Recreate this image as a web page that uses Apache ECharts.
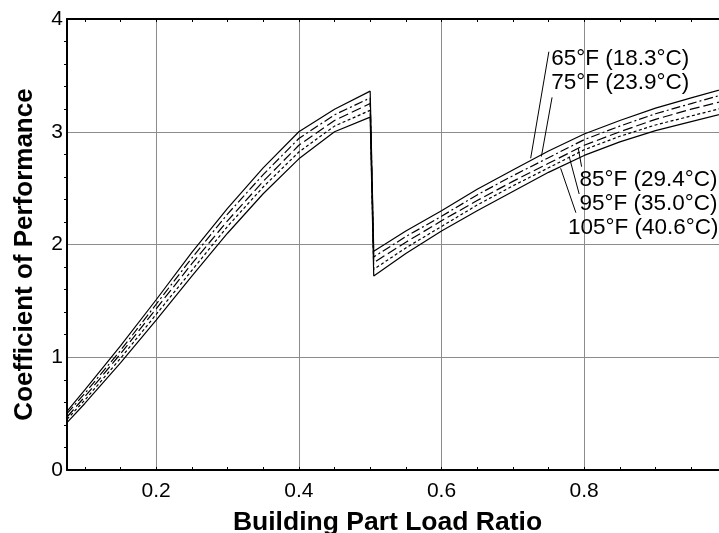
<!DOCTYPE html>
<html>
<head>
<meta charset="utf-8">
<script src="https://cdn.jsdelivr.net/npm/echarts@6/dist/echarts.min.js"></script>
<style>
  html, body { margin: 0; padding: 0; background: #fff; }
  #chart { width: 719px; height: 533px; }
</style>
</head>
<body>
<div id="chart"></div>
<script>
// x positions (part load ratio); the drop happens between 0.5 and 0.505
var xVals = [0.075, 0.1, 0.15, 0.2, 0.25, 0.3, 0.35, 0.4, 0.45, 0.5,
             0.505, 0.55, 0.6, 0.65, 0.7, 0.75, 0.8, 0.85, 0.9, 0.95, 1.0];

// COP, one array per outdoor temperature
var cop65  = [0.52, 0.71, 1.10, 1.51, 1.93, 2.32, 2.68, 3.00, 3.20, 3.36,
              1.94, 2.12, 2.30, 2.49, 2.66, 2.83, 2.98, 3.10, 3.21, 3.30, 3.39];
var cop75  = [0.50, 0.68, 1.06, 1.47, 1.88, 2.27, 2.62, 2.94, 3.15, 3.30,
              1.89, 2.07, 2.25, 2.44, 2.61, 2.77, 2.93, 3.05, 3.16, 3.25, 3.34];
var cop85  = [0.47, 0.65, 1.03, 1.43, 1.83, 2.21, 2.56, 2.88, 3.10, 3.25,
              1.84, 2.02, 2.21, 2.39, 2.56, 2.72, 2.88, 3.00, 3.11, 3.20, 3.28];
var cop95  = [0.45, 0.62, 0.99, 1.38, 1.77, 2.16, 2.51, 2.82, 3.05, 3.19,
              1.78, 1.97, 2.16, 2.35, 2.52, 2.68, 2.84, 2.96, 3.06, 3.14, 3.22];
var cop105 = [0.42, 0.59, 0.95, 1.33, 1.72, 2.10, 2.45, 2.76, 3.00, 3.13,
              1.72, 1.92, 2.12, 2.30, 2.47, 2.64, 2.79, 2.91, 3.01, 3.09, 3.17];

// tick labels
var xLabelTicks = [0.2, 0.4, 0.6, 0.8];
var xMinorTicks = [0.1, 0.15, 0.2, 0.25, 0.3, 0.35, 0.4, 0.45, 0.5, 0.55,
                   0.6, 0.65, 0.7, 0.75, 0.8, 0.85, 0.9, 0.95];

// legend labels, where the text sits and the leader line (data coords)
var labelNames = ['65°F (18.3°C)', '75°F (23.9°C)', '85°F (29.4°C)', '95°F (35.0°C)', '105°F (40.6°C)'];
var labelPos = [[0.753, 3.648], [0.753, 3.43], [0.7926, 2.572], [0.7926, 2.365], [0.7767, 2.144]];
var leaderFrom = [[0.7505, 3.71], [0.755, 3.305], [0.7964, 2.69], [0.793, 2.448], [0.7884, 2.282]];
var leaderTo = [[0.725, 2.765], [0.740, 2.78], [0.7917, 2.853], [0.779, 2.779], [0.767, 2.676]];

var lineTypes = ['solid', [9, 3, 2, 3], [10, 4], [3, 2.5], 'solid'];
var allCop = [cop65, cop75, cop85, cop95, cop105];

var FONT = '"Liberation Sans", Arial, Helvetica, sans-serif';

function pairs(ys) {
    var out = [];
    for (var i = 0; i < xVals.length; i++) {
        out.push([xVals[i], ys[i]]);
    }
    return out;
}

var series = [];
for (var k = 0; k < allCop.length; k++) {
    series.push({
        name: labelNames[k],
        type: 'line',
        data: pairs(allCop[k]),
        showSymbol: false,
        symbol: 'none',
        smooth: false,
        lineStyle: { color: '#000', width: 1.2, type: lineTypes[k] },
        markLine: {
            silent: true,
            symbol: ['none', 'none'],
            label: { show: false },
            lineStyle: { color: '#000', width: 1, type: 'solid' },
            data: [[{ coord: leaderFrom[k] }, { coord: leaderTo[k] }]]
        },
        markPoint: {
            silent: true,
            symbol: 'circle',
            symbolSize: 1,
            itemStyle: { color: 'rgba(0,0,0,0)' },
            label: {
                show: true,
                position: 'right',
                distance: 0,
                formatter: labelNames[k],
                color: '#000',
                fontFamily: FONT,
                fontSize: 22.5
            },
            data: [{ coord: labelPos[k] }]
        }
    });
}

var chart = echarts.init(document.getElementById('chart'), null, { renderer: 'canvas' });

var X_MIN = 0.075, X_MAX = 0.989;

var option = {
    animation: false,
    backgroundColor: '#fff',
    grid: { left: 67, top: 19, right: 0, bottom: 63, outerBoundsMode: 'none', containLabel: false },
    xAxis: [{
        type: 'value',
        min: X_MIN,
        max: X_MAX,
        name: 'Building Part Load Ratio',
        nameLocation: 'middle',
        nameGap: 39,
        nameTextStyle: { fontFamily: FONT, fontSize: 26.5, fontWeight: 'bold', color: '#000', padding: [0, 11, 0, 0] },
        axisLine: { show: true, onZero: false, lineStyle: { color: '#000', width: 2 } },
        axisTick: { show: true, inside: true, length: 3, customValues: xMinorTicks, lineStyle: { color: '#000' } },
        axisLabel: {
            customValues: xLabelTicks,
            margin: 11,
            color: '#000',
            fontFamily: FONT,
            fontSize: 21,
            formatter: function (v) { return v.toFixed(1); }
        },
        splitLine: { show: false }
    }, {
        type: 'value',
        position: 'top',
        min: X_MIN,
        max: X_MAX,
        axisLine: { show: true, onZero: false, lineStyle: { color: '#000', width: 2 } },
        axisTick: { show: true, inside: true, length: 3, customValues: xMinorTicks, lineStyle: { color: '#000' } },
        axisLabel: { show: false },
        splitLine: { show: false }
    }, {
        // only used for the vertical grid lines
        type: 'value',
        position: 'top',
        min: X_MIN,
        max: X_MAX,
        splitNumber: 5,
        axisLine: { show: false },
        axisTick: { show: false },
        axisLabel: { show: false },
        splitLine: { show: true, showMinLine: false, showMaxLine: false, lineStyle: { color: '#8c8c8c', width: 1 } }
    }],
    yAxis: {
        type: 'value',
        min: 0,
        max: 4,
        interval: 1,
        name: 'Coefficient of Performance',
        nameLocation: 'middle',
        nameRotate: 90,
        nameGap: 29,
        nameTextStyle: { fontFamily: FONT, fontSize: 26, fontWeight: 'bold', color: '#000', padding: [0, 20, 0, 0] },
        axisLine: { show: true, onZero: false, lineStyle: { color: '#000', width: 2 } },
        axisTick: { show: false },
        minorTick: { show: true, splitNumber: 5, length: 3, lineStyle: { color: '#000' } },
        axisLabel: { margin: 4, color: '#000', fontFamily: FONT, fontSize: 21 },
        splitLine: { show: true, showMinLine: false, showMaxLine: false, lineStyle: { color: '#8c8c8c', width: 1 } }
    },
    series: series
};

chart.setOption(option);
</script>
</body>
</html>
